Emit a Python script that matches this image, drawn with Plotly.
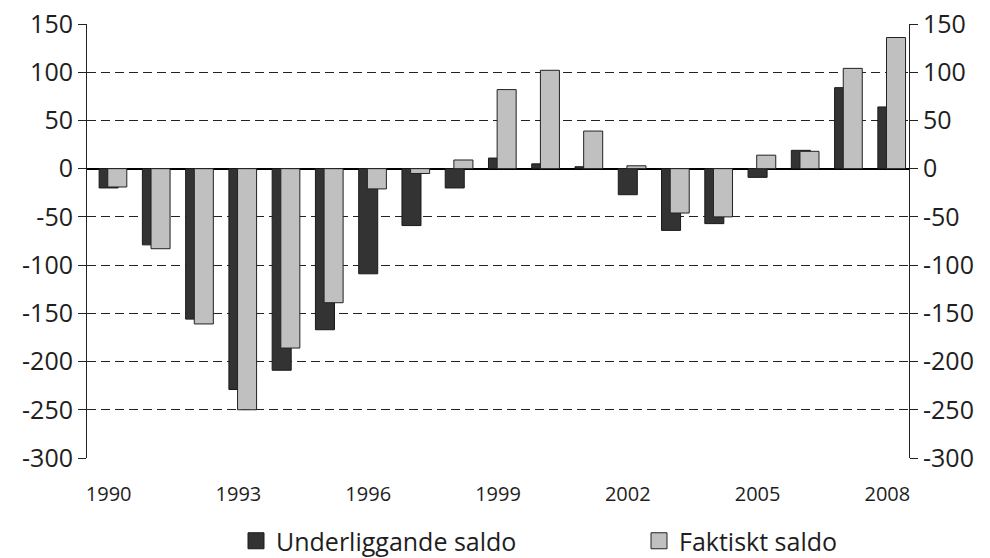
import plotly.graph_objects as go

years = list(range(1990, 2009))
underliggande = [-20, -79, -156, -229, -209, -167, -109, -59, -20, 11, 5, 2, -27, -64, -57, -9, 19, 84, 64]
faktiskt = [-19, -83, -161, -250, -186, -139, -21, -5, 9, 82, 102, 39, 3, -46, -50, 14, 18, 104, 136]
ytickvals = [-300, -250, -200, -150, -100, -50, 0, 50, 100, 150]
yticktext = ["-300", "-250", "-200", "-150", "-100", "-50", "0", "50", "100", "150"]
xtickvals = [1990, 1993, 1996, 1999, 2002, 2005, 2008]
xticktext = ["1990", "1993", "1996", "1999", "2002", "2005", "2008"]

FONT = "Open Sans"
TXT = "#1e1e1e"
DARK = "#333333"
LIGHT = "#c0c0c0"

fig = go.Figure()
fig.add_trace(go.Bar(
    x=years, y=underliggande, name="Underliggande saldo",
    marker=dict(color=DARK, line=dict(color="#1a1a1a", width=1)),
    width=0.44, offset=-0.22, showlegend=False,
))
fig.add_trace(go.Bar(
    x=years, y=faktiskt, name="Faktiskt saldo",
    marker=dict(color=LIGHT, line=dict(color="#222222", width=1)),
    width=0.44, offset=-0.02, showlegend=False,
))
# legend entries (larger square swatches)
fig.add_trace(go.Scatter(
    x=[None], y=[None], mode="markers", name="Underliggande saldo",
    marker=dict(symbol="square", size=16, color=DARK, line=dict(color="#1a1a1a", width=1)),
    legend="legend",
))
fig.add_trace(go.Scatter(
    x=[None], y=[None], mode="markers", name="Faktiskt saldo",
    marker=dict(symbol="square", size=16, color=LIGHT, line=dict(color="#222222", width=1)),
    legend="legend2",
))
# invisible trace to anchor the right axis
fig.add_trace(go.Scatter(x=[years[0]], y=[0], yaxis="y2", mode="markers",
                         marker=dict(opacity=0), showlegend=False, hoverinfo="skip"))

legend_common = dict(
    orientation="h", xref="container", yref="container",
    xanchor="left", yanchor="middle", y=1 - 541 / 558,
    font=dict(size=25, family=FONT, color=TXT),
    bgcolor="rgba(0,0,0,0)", borderwidth=0, itemsizing="trace",
)

fig.update_layout(
    width=990, height=558,
    margin=dict(l=87, r=81, t=24, b=100, autoexpand=False),
    paper_bgcolor="white", plot_bgcolor="white",
    barmode="overlay",
    font=dict(family=FONT, color=TXT),
    xaxis=dict(
        range=[1989.5, 2008.5], tickvals=xtickvals, ticktext=xticktext,
        showgrid=False, zeroline=False, showline=False, ticks="",
        tickfont=dict(size=20, family=FONT, color=TXT),
        ticklabelstandoff=22, automargin=False,
    ),
    yaxis=dict(
        range=[-300, 150], tickvals=ytickvals, ticktext=yticktext,
        showgrid=True, gridcolor="#222222", griddash="9px,5px", gridwidth=1,
        zeroline=True, zerolinecolor="#000000", zerolinewidth=2,
        showline=True, linecolor="#222222", linewidth=1,
        ticks="outside", ticklen=8, tickcolor="#222222",
        tickfont=dict(size=25, family=FONT, color=TXT), automargin=False,
    ),
    yaxis2=dict(
        range=[-300, 150], tickvals=ytickvals, ticktext=yticktext,
        overlaying="y", side="right",
        showgrid=False, zeroline=False,
        showline=True, linecolor="#222222", linewidth=1,
        ticks="outside", ticklen=8, tickcolor="#222222",
        tickfont=dict(size=25, family=FONT, color=TXT), automargin=False,
    ),
    legend=dict(legend_common, x=236 / 990),
    legend2=dict(legend_common, x=639 / 990),
    showlegend=True,
)

fig.write_html(
    "out.html",
    config={"displayModeBar": False},
    post_script="document.body.style.margin='0';document.body.style.overflow='hidden';",
)
